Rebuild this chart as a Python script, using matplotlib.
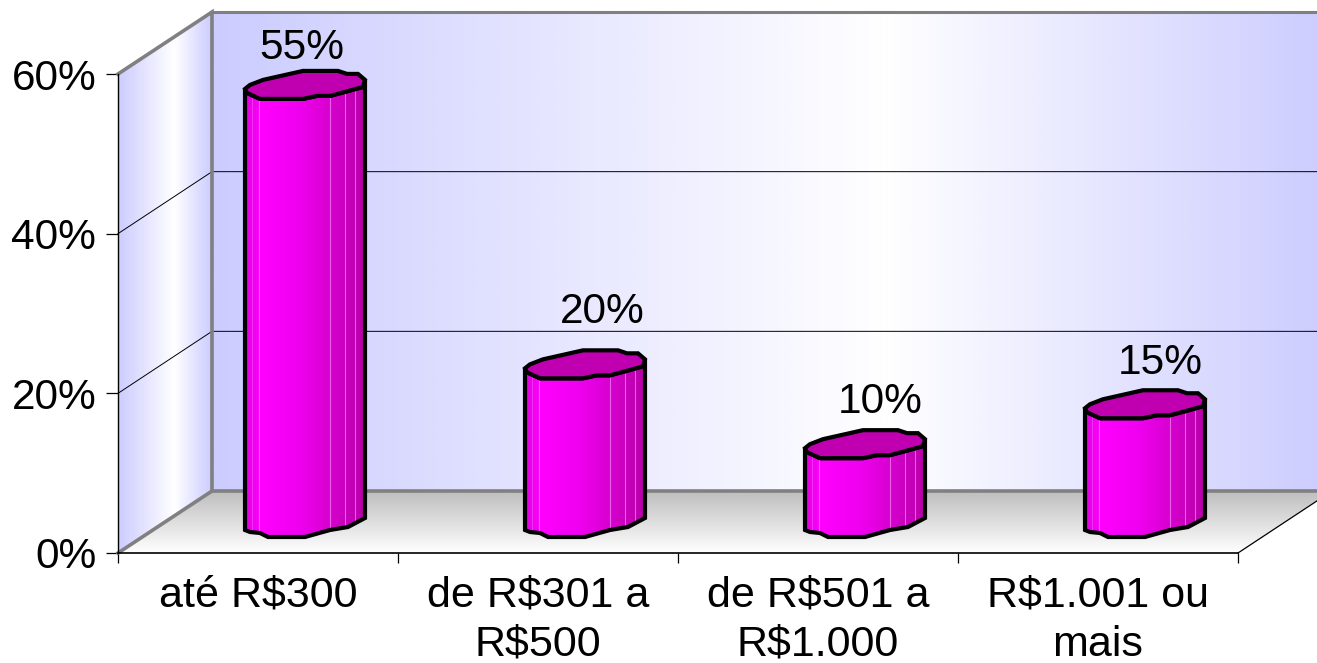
import numpy as np
import matplotlib
matplotlib.use('Agg')
import matplotlib.pyplot as plt
from matplotlib.colors import LinearSegmentedColormap
from matplotlib.patches import Polygon

plt.rcParams['font.family'] = ['Liberation Sans', 'DejaVu Sans']

categories = ['até R$300', 'de R$301 a\nR$500', 'de R$501 a\nR$1.000', 'R$1.001 ou\nmais']
values = [55, 20, 10, 15]
labels = ['55%', '20%', '10%', '15%']
yticks = [0, 20, 40, 60]
ytick_labels = ['0%', '20%', '40%', '60%']

W, H = 1317, 663
fig = plt.figure(figsize=(W / 100, H / 100), dpi=100)
ax = fig.add_axes([118 / W, (H - 553) / H, 1120 / W, 479 / H])
ax.set_xlim(0, 4)
ax.set_ylim(0, 60)

# one category = 280 px, one percent = 7.98 px
sx, sy = 1 / 280, 60 / 479
DX, DY = 94 * sx, 62 * sy
FAR = 4.5  # floor and back wall run off the right edge


def gradient(stops, poly, extent, horizontal=True, z=1):
    cmap = LinearSegmentedColormap.from_list('g', stops)
    g = np.linspace(0, 1, 400)
    g = g.reshape(1, -1) if horizontal else g.reshape(-1, 1)
    im = ax.imshow(g, cmap=cmap, extent=extent, aspect='auto', origin='lower',
                   zorder=z, interpolation='bilinear')
    im.set_clip_box(fig.bbox)
    im.set_clip_path(Polygon(poly, closed=True, transform=ax.transData))
    return im


blue = '#ccccff'
gradient([(0, blue), (0.6, '#ffffff'), (1, blue)],
         [(DX, DY), (FAR, DY), (FAR, 60 + DY), (DX, 60 + DY)],
         (DX, 4 + DX, DY, 60 + DY))
gradient([(0, blue), (0.6, '#ffffff'), (1, blue)],
         [(0, 0), (DX, DY), (DX, 60 + DY), (0, 60)],
         (0, DX, 0, 60 + DY))
gradient([(0, '#ffffff'), (1, '#bebebe')],
         [(0, 0), (4, 0), (4 + DX, DY), (DX, DY)],
         (0, FAR, 0, DY), horizontal=False, z=1.5)

# gridlines on the walls
for v in yticks[1:-1]:
    ax.plot([0, DX, FAR], [v, v + DY, v + DY], color='black', lw=0.7, zorder=2, clip_on=False)
ax.plot([4, 4 + DX], [0, DY], color='black', lw=0.9, zorder=2, clip_on=False)

# grey frame of the walls
grey = '#808080'
ax.plot([0, DX, DX], [60, 60 + DY, DY], color=grey, lw=2.6, zorder=2.5, clip_on=False, solid_joinstyle='miter')
ax.plot([DX, FAR], [60 + DY, 60 + DY], color=grey, lw=2.2, zorder=2.5, clip_on=False)
ax.plot([0, DX, FAR], [0, DY, DY], color=grey, lw=2.6, zorder=2.5, clip_on=False, solid_joinstyle='miter')

# outline of a bar, px offsets from the bar centre
cap_x = np.array([-60, -55, -42, -2, 33, 42, 53, 60, 58, 40, 25, 12, -2, -45, -58]) * sx
cap_y = np.array([6, 2, -3, -12, -12, -9, -9, -3, 4, 9, 13, 13, 16, 16, 10]) * -sy
cap_front_x = np.array([-60, -58, -45, -2, 12, 25, 40, 58, 60]) * sx
cap_front_y = np.array([6, 10, 16, 16, 13, 13, 9, 4, -3]) * -sy
base_x = np.array([-60, -55, -45, -37, 0, 25, 43, 60]) * sx
base_y = np.array([8, 10, 11, 15, 15, 8, 5, -4]) * -sy
facets = np.array([-53, -46, 25, 40, 50]) * sx
facet_alpha = [0.3, 0.6, 0.6, 0.6, 0.6]

body_cmap = LinearSegmentedColormap.from_list(
    'body', [(0, '#e000e0'), (0.13, '#ff00ff'), (0.45, '#f000f0'), (0.7, '#d800d0'), (1, '#b800a8')])

for i, v in enumerate(values):
    cx = i + 0.5 + DX / 2
    top = v + DY / 2
    bot = DY / 2
    body = list(zip(cx + cap_front_x, top + cap_front_y)) + list(zip(cx + base_x[::-1], bot + base_y[::-1]))
    im = ax.imshow(np.linspace(0, 1, 200).reshape(1, -1), cmap=body_cmap, aspect='auto',
                   extent=(cx - 60 * sx, cx + 60 * sx, 0, top + 5), zorder=3, origin='lower')
    im.set_clip_path(Polygon(body, closed=True, transform=ax.transData))
    for f, a in zip(facets, facet_alpha):
        ln, = ax.plot([cx + f, cx + f], [bot - 20 * sy, top], color='#ff9cff', lw=0.8, alpha=a, zorder=3.1)
        ln.set_clip_path(Polygon(body, closed=True, transform=ax.transData))
    ax.add_patch(Polygon(body, closed=True, fill=False, ec='black', lw=3, zorder=4, clip_on=False))
    ax.add_patch(Polygon(list(zip(cx + cap_x, top + cap_y)), closed=True, fc='#c000b0', ec='black',
                         lw=3, zorder=5, clip_on=False))

# value labels, moved by hand in the original
label_shift = [(-3, 35), (17, 50), (15, 40), (15, 39)]
for i, v in enumerate(values):
    ax.annotate(labels[i], (i + 0.5 + DX / 2, v + DY / 2), xytext=(label_shift[i][0] * 0.72, label_shift[i][1] * 0.72),
                textcoords='offset points', ha='center', va='center', fontsize=30.5, zorder=6,
                annotation_clip=False)

ax.set_xlim(0, 4)
ax.set_ylim(0, 60)
ax.patch.set_visible(False)
ax.spines['top'].set_visible(False)
ax.spines['right'].set_visible(False)
ax.spines['left'].set_linewidth(1.0)
ax.spines['bottom'].set_linewidth(1.2)
ax.set_yticks(yticks)
ax.set_yticklabels(ytick_labels, fontsize=30.5)
ax.set_xticks(range(5))
ax.set_xticklabels([])
ax.set_xticks(np.arange(4) + 0.5, minor=True)
ax.set_xticklabels(categories, minor=True, fontsize=31, linespacing=1.3)
ax.tick_params(axis='y', length=8.6, width=0.9, pad=7)
ax.tick_params(axis='x', which='major', length=7.5, width=0.9)
ax.tick_params(axis='x', which='minor', length=0, pad=16)

fig.savefig('out.png', dpi=100, facecolor='white')
